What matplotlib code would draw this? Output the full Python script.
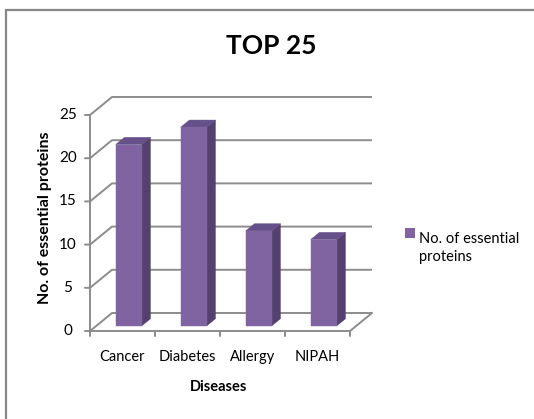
import matplotlib
matplotlib.use("Agg")
import matplotlib.pyplot as plt
from matplotlib.patches import Polygon, Rectangle

plt.rcParams['font.family'] = ['Lato', 'DejaVu Sans']

# Data
categories = ["Cancer", "Diabetes", "Allergy", "NIPAH"]
values = [21, 23, 11, 10]
y_ticks = [0, 5, 10, 15, 20, 25]
series_name = "No. of essential\nproteins"
title = "TOP 25"
x_title = "Diseases"
y_title = "No. of essential proteins"

# Figure / layout (pixel anchors)
W, H, DPI = 534, 419, 100
fig = plt.figure(figsize=(W / DPI, H / DPI), dpi=DPI)
fig.patch.set_facecolor("white")

X0_PX, Y0_PX = 90.0, 331.0       # front-left floor corner
PX_PER_CAT, PX_PER_VAL = 65.0, 8.64
DEPTH_PX = (22.0, -18.0)          # offset of back wall relative to front

xmin, xmax, ymin, ymax = -0.2, 4.6, -1.5, 28.5
left = X0_PX + xmin * PX_PER_CAT
right = X0_PX + xmax * PX_PER_CAT
bottom = Y0_PX - ymin * PX_PER_VAL
top = Y0_PX - ymax * PX_PER_VAL
ax = fig.add_axes([left / W, 1 - bottom / H, (right - left) / W, (bottom - top) / H])
ax.set_xlim(xmin, xmax)
ax.set_ylim(ymin, ymax)
ax.axis("off")

DX = DEPTH_PX[0] / PX_PER_CAT
DY = -DEPTH_PX[1] / PX_PER_VAL


def P(x, y, d):
    """Oblique projection of (category, value, depth) into axes data coords."""
    return (x + d * DX, y + d * DY)


grid_col = "#8c8c8c"
ncat = len(categories)
ymax_axis = max(y_ticks)

# Back wall and left side wall gridlines
for v in y_ticks:
    xs, ys = zip(P(0, v, 0), P(0, v, 1), P(ncat, v, 1))
    ax.plot(xs, ys, color=grid_col, lw=1.4, solid_capstyle="butt", clip_on=False, zorder=1)

# Floor edges
xs, ys = zip(P(0, 0, 0), P(ncat, 0, 0), P(ncat, 0, 1))
ax.plot(xs, ys, color=grid_col, lw=1.4, clip_on=False, zorder=1)

# Front value axis
xs, ys = zip(P(0, 0, 0), P(0, ymax_axis, 0))
ax.plot(xs, ys, color=grid_col, lw=1.4, clip_on=False, zorder=1)

# Bars
front_col, side_col, top_col = "#8064a2", "#54416f", "#65508a"
bar_w = 0.4
d0, d1 = 0.28, 0.68
for i, v in enumerate(values):
    xl = i + 0.5 - bar_w / 2
    xr = i + 0.5 + bar_w / 2
    side = [P(xr, 0, d0), P(xr, 0, d1), P(xr, v, d1), P(xr, v, d0)]
    topf = [P(xl, v, d0), P(xr, v, d0), P(xr, v, d1), P(xl, v, d1)]
    front = [P(xl, 0, d0), P(xr, 0, d0), P(xr, v, d0), P(xl, v, d0)]
    for poly, col in ((side, side_col), (topf, top_col), (front, front_col)):
        ax.add_patch(Polygon(poly, closed=True, facecolor=col, edgecolor=col,
                             lw=0.3, clip_on=False, zorder=3))

# Value ticks and labels
for v in y_ticks:
    x, y = P(0, v, 0)
    ax.annotate("", xy=(x, y), xytext=(-5, 0), textcoords="offset pixels",
                arrowprops=dict(arrowstyle="-", color=grid_col, lw=1.4,
                                shrinkA=0, shrinkB=0))
    ax.annotate(str(v), xy=(x, y), xytext=(-22, 0), textcoords="offset pixels",
                ha="center", va="center", fontsize=11, color="#000000")

# Category ticks and labels
for i in range(ncat + 1):
    x, y = P(i, 0, 0)
    ax.annotate("", xy=(x, y), xytext=(0, -5), textcoords="offset pixels",
                arrowprops=dict(arrowstyle="-", color=grid_col, lw=1.4,
                                shrinkA=0, shrinkB=0))
for i, name in enumerate(categories):
    x, y = P(i + 0.5, 0, 0)
    ax.annotate(name, xy=(x, y), xytext=(0, -26), textcoords="offset pixels",
                ha="center", va="center", fontsize=10.5, color="#000000")

# Titles
fig.text(271 / W, 1 - 46 / H, title, ha="center", va="center",
         fontsize=19, fontweight="bold")
fig.text(219 / W, 1 - 387 / H, x_title, ha="center", va="center",
         fontsize=10.5, fontweight="bold")
fig.text(45 / W, 1 - 218 / H, y_title, ha="center", va="center",
         fontsize=11.5, fontweight="bold", rotation=90)

# Legend
fig.patches.append(Rectangle((405 / W, 1 - 238 / H), 10 / W, 10 / H,
                             transform=fig.transFigure, facecolor=front_col,
                             edgecolor="none"))
fig.text(419 / W, 1 - 232 / H, series_name, ha="left", va="top",
         fontsize=10.5, linespacing=1.4, transform=fig.transFigure)

# Chart border
fig.patches.append(Rectangle((6 / W, -0.05), 1.1, 1 - 10 / H + 0.05,
                             transform=fig.transFigure, facecolor="none",
                             edgecolor="#878787", lw=1.6))

fig.savefig("out.png", dpi=DPI, facecolor="white")
